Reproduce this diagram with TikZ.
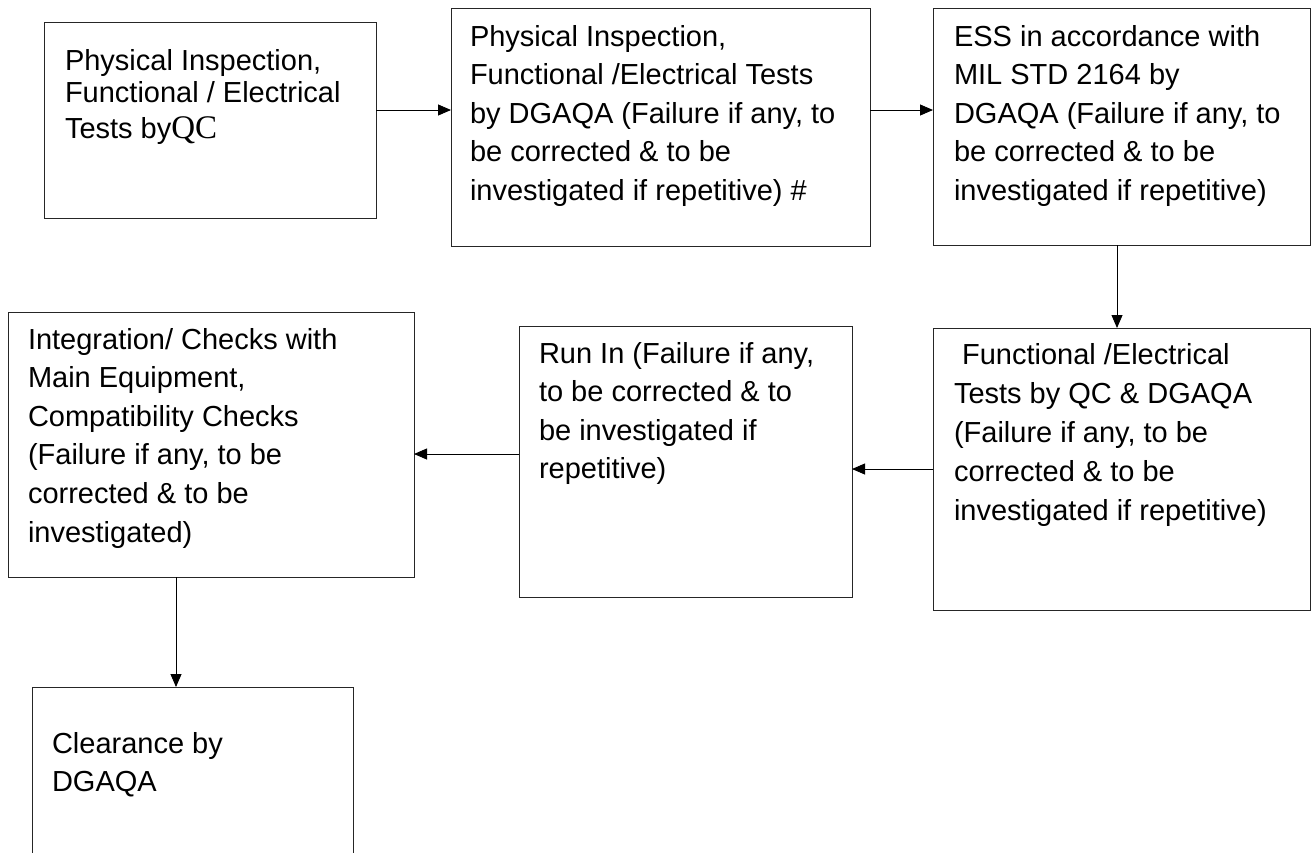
\documentclass[tikz,border=0pt]{standalone}
\usepackage{fontspec}
\setmainfont{Liberation Sans}
\newfontfamily\serifQC{Liberation Serif}
\usetikzlibrary{arrows.meta}
\tikzset{
  stepbox/.style={draw=black!85, line width=0.9pt, fill=none, inner sep=0pt, outer sep=0pt, anchor=north west},
  boxtext/.style={anchor=base west, inner sep=0pt, outer sep=0pt, font=\fontsize{29}{38.6}\selectfont},
  arr/.style={line width=0.9pt, -{Triangle[length=13pt,width=11pt]}}
}
\begin{document}
\begin{tikzpicture}[x=1pt,y=-1pt]
\useasboundingbox (0,0) rectangle (1311,852);
% boxes
\node[stepbox, minimum width=332pt, minimum height=196pt] (b1) at (44,22) {};
\node[stepbox, minimum width=419pt, minimum height=238pt] (b2) at (451,8) {};
\node[stepbox, minimum width=377pt, minimum height=237pt] (b3) at (933,8) {};
\node[stepbox, minimum width=377pt, minimum height=282pt] (b4) at (933,328) {};
\node[stepbox, minimum width=333pt, minimum height=271pt] (b5) at (519,326) {};
\node[stepbox, minimum width=406pt, minimum height=265pt] (b6) at (8,312) {};
\node[stepbox, minimum width=321pt, minimum height=190pt] (b7) at (32,687) {};
% texts
\node[boxtext, font=\fontsize{29}{32.4}\selectfont] (t1) at (65,70) {\vtop{\hbox{Physical Inspection,}\hbox{Functional / Electrical}\kern3.6pt\hbox{Tests by{\serifQC\fontsize{33}{32.4}\selectfont QC}}}};
\node[boxtext] (t2) at (470,46) {\vtop{\hbox{Physical Inspection,}\hbox{Functional /Electrical Tests}\hbox{by DGAQA (Failure if any, to}\hbox{be corrected \& to be}\hbox{investigated if repetitive) \#}}};
\node[boxtext] (t3) at (954,46) {\vtop{\hbox{ESS in accordance with}\hbox{MIL STD 2164 by}\hbox{DGAQA (Failure if any, to}\hbox{be corrected \& to be}\hbox{investigated if repetitive)}}};
\node[boxtext, font=\fontsize{29}{39}\selectfont] (t4) at (954,364) {\vtop{\hbox{\ Functional /Electrical}\hbox{Tests by QC \& DGAQA}\hbox{(Failure if any, to be}\hbox{corrected \& to be}\hbox{investigated if repetitive)}}};
\node[boxtext] (t5) at (539,363) {\vtop{\hbox{Run In (Failure if any,}\hbox{to be corrected \& to}\hbox{be investigated if}\hbox{repetitive)}}};
\node[boxtext] (t6) at (28,349) {\vtop{\hbox{Integration/ Checks with}\hbox{Main Equipment,}\hbox{Compatibility Checks}\hbox{(Failure if any, to be}\hbox{corrected \& to be}\hbox{investigated)}}};
\node[boxtext] (t7) at (52,753) {\vtop{\hbox{Clearance by}\hbox{DGAQA}}};
% connectors
\draw[arr] ([yshift=10pt]b1.east) -- ([yshift=10pt]b1.east -| b2.west);
\draw[arr] ([yshift=17pt]b2.east) -- ([yshift=17pt]b2.east -| b3.west);
\draw[arr] ([xshift=-4.5pt]b3.south) -- ([xshift=-4.5pt]b3.south |- b4.north);
\draw[arr] (b4.west) -- (b4.west -| b5.east);
\draw[arr] ([yshift=7.5pt]b5.west) -- ([yshift=7.5pt]b5.west -| b6.east);
\draw[arr] ([xshift=-35pt]b6.south) -- ([xshift=-35pt]b6.south |- b7.north);
\end{tikzpicture}
\end{document}
